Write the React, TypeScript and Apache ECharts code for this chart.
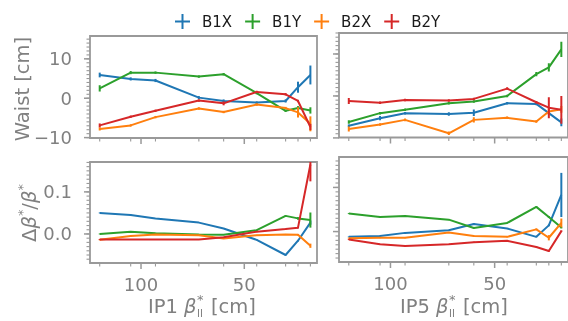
import React, { useEffect, useRef } from 'react';
import * as echarts from 'echarts';

// beta* steps [cm]
const beta = [120, 105, 93, 72, 60, 44, 30, 24, 18];
const beams = ['B1X', 'B1Y', 'B2X', 'B2Y'];
const beamColors = ['#1f77b4', '#2ca02c', '#ff7f0e', '#d62728'];

// IP1 waist [cm]
const ip1WaistB1X = [5.9, 4.9, 4.5, 0.15, -0.7, -1.1, -0.7, 2.8, 5.9];
const ip1WaistB1XErr = [0.6, 0.4, 0.4, 0.4, 0.4, 0.3, 0.4, 1.4, 2.4];
const ip1WaistB1Y = [2.5, 6.5, 6.5, 5.5, 6.1, 1.3, -3.2, -2.5, -3.1];
const ip1WaistB1YErr = [0.8, 0.4, 0.3, 0.3, 0.3, 0.3, 0.3, 0.5, 0.8];
const ip1WaistB2X = [-7.8, -6.9, -4.8, -2.6, -3.5, -1.6, -2.5, -3.6, -6.5];
const ip1WaistB2XErr = [0.4, 0.3, 0.3, 0.3, 0.3, 0.3, 0.3, 1.3, 1.9];
const ip1WaistB2Y = [-6.9, -4.7, -3.2, -0.6, -1.3, 1.6, 1.0, -0.7, -7.3];
const ip1WaistB2YErr = [0.5, 0.3, 0.3, 0.3, 0.5, 0.3, 0.3, 0.3, 0.8];

// IP5 waist [cm]
const ip5WaistB1X = [-7.1, -5.3, -4.1, -4.3, -4.0, -1.75, -1.9, -4.1, -6.3];
const ip5WaistB1XErr = [0.3, 0.5, 0.3, 0.4, 0.8, 0.3, 0.3, 0.3, 0.9];
const ip5WaistB1Y = [-6.2, -4.1, -3.3, -1.75, -1.3, 0.0, 5.2, 6.8, 11.1];
const ip5WaistB1YErr = [0.4, 0.3, 0.3, 0.3, 0.3, 0.3, 0.5, 1.0, 1.8];
const ip5WaistB2X = [-7.9, -6.8, -5.7, -8.9, -5.7, -5.2, -6.1, -3.7, -3.2];
const ip5WaistB2XErr = [0.6, 0.3, 0.3, 0.4, 0.6, 0.3, 0.3, 0.8, 0.8];
const ip5WaistB2Y = [-1.2, -1.6, -0.95, -1.1, -0.7, 1.75, -1.5, -2.8, -3.3];
const ip5WaistB2YErr = [0.7, 0.3, 0.3, 0.3, 0.3, 0.3, 0.3, 2.5, 3.3];

// IP1 delta beta / beta
const ip1DbB1X = [0.05, 0.045, 0.037, 0.027, 0.013, -0.014, -0.05, -0.016, 0.027];
const ip1DbB1XErr = [0.001, 0.001, 0.001, 0.001, 0.001, 0.001, 0.001, 0.002, 0.005];
const ip1DbB1Y = [0.0, 0.0055, 0.0016, -0.001, -0.0016, 0.009, 0.043, 0.037, 0.033];
const ip1DbB1YErr = [0.001, 0.001, 0.001, 0.001, 0.001, 0.001, 0.001, 0.003, 0.018];
const ip1DbB2X = [-0.014, -0.005, -0.001, -0.003, -0.011, -0.003, -0.001, -0.002, -0.028];
const ip1DbB2XErr = [0.001, 0.001, 0.001, 0.001, 0.001, 0.001, 0.001, 0.002, 0.005];
const ip1DbB2Y = [-0.013, -0.013, -0.013, -0.013, -0.008, 0.0055, 0.012, 0.015, 0.165];
const ip1DbB2YErr = [0.001, 0.001, 0.001, 0.001, 0.001, 0.001, 0.001, 0.002, 0.04];

// IP5 delta beta / beta
const ip5DbB1X = [-0.012, -0.01, -0.003, 0.003, 0.017, 0.007, -0.012, 0.014, 0.083];
const ip5DbB1XErr = [0.001, 0.001, 0.001, 0.001, 0.002, 0.001, 0.001, 0.002, 0.05];
const ip5DbB1Y = [0.041, 0.033, 0.035, 0.027, 0.008, 0.0195, 0.056, 0.033, 0.009];
const ip5DbB1YErr = [0.001, 0.001, 0.001, 0.001, 0.001, 0.001, 0.001, 0.002, 0.002];
const ip5DbB2X = [-0.015, -0.014, -0.014, -0.002, -0.01, -0.012, 0.005, -0.014, 0.0195];
const ip5DbB2XErr = [0.001, 0.001, 0.001, 0.001, 0.001, 0.001, 0.002, 0.006, 0.01];
const ip5DbB2Y = [-0.018, -0.029, -0.033, -0.029, -0.024, -0.021, -0.035, -0.044, 0.001];
const ip5DbB2YErr = [0.001, 0.001, 0.001, 0.001, 0.001, 0.001, 0.001, 0.002, 0.002];

const xMajorTicks = [100, 50];
const waistTicks = [-10, 0, 10];
const dbTicks = [0, 0.1];

const X_MIN = 14.8;
const X_MAX = 124.7;

const GRAY = '#808080';
const SPINE = '#999999';
const FONT = 'DejaVu Sans';

function rangeTicks(lo: number, hi: number, step: number): number[] {
  const out: number[] = [];
  const n0 = Math.ceil(lo / step - 1e-9);
  const n1 = Math.floor(hi / step + 1e-9);
  for (let n = n0; n <= n1; n++) out.push(Math.round(n * step * 1e6) / 1e6);
  return out;
}

const fmtMinus = (v: number, d: number) => (v < 0 ? '\u2212' : '') + Math.abs(v).toFixed(d);

export default function App() {
  const ref = useRef<HTMLDivElement>(null);
  useEffect(() => {
    if (!ref.current) return;
    const chart = echarts.init(ref.current, undefined, { renderer: 'svg' });

    const panels = [
      {
        grid: { left: 90, top: 36, width: 227, height: 102 },
        yMin: -10.1, yMax: 15.8, major: waistTicks, minorStep: 1, dec: 0, showY: true, showX: false,
        vals: [ip1WaistB1X, ip1WaistB1Y, ip1WaistB2X, ip1WaistB2Y],
        errs: [ip1WaistB1XErr, ip1WaistB1YErr, ip1WaistB2XErr, ip1WaistB2YErr],
      },
      {
        grid: { left: 339, top: 33, width: 234, height: 104.5 },
        yMin: -9.9, yMax: 15.0, major: waistTicks, minorStep: 1, dec: 0, showY: false, showX: false,
        vals: [ip5WaistB1X, ip5WaistB1Y, ip5WaistB2X, ip5WaistB2Y],
        errs: [ip5WaistB1XErr, ip5WaistB1YErr, ip5WaistB2XErr, ip5WaistB2YErr],
      },
      {
        grid: { left: 90, top: 162, width: 227, height: 101 },
        yMin: -0.069, yMax: 0.171, major: dbTicks, minorStep: 0.01, dec: 1, showY: true, showX: true,
        vals: [ip1DbB1X, ip1DbB1Y, ip1DbB2X, ip1DbB2Y],
        errs: [ip1DbB1XErr, ip1DbB1YErr, ip1DbB2XErr, ip1DbB2YErr],
      },
      {
        grid: { left: 339, top: 157, width: 234, height: 105 },
        yMin: -0.069, yMax: 0.169, major: dbTicks, minorStep: 0.01, dec: 1, showY: false, showX: true,
        vals: [ip5DbB1X, ip5DbB1Y, ip5DbB2X, ip5DbB2Y],
        errs: [ip5DbB1XErr, ip5DbB1YErr, ip5DbB2XErr, ip5DbB2YErr],
      },
    ];

    const grids: any[] = [];
    const xAxes: any[] = [];
    const yAxes: any[] = [];
    const series: any[] = [];

    panels.forEach((p, g) => {
      grids.push({ ...p.grid, show: true, borderColor: SPINE, borderWidth: 1.8, containLabel: false });
      xAxes.push({
        type: 'value', gridIndex: g, min: X_MIN, max: X_MAX, inverse: true, position: 'bottom',
        axisLine: { show: false, onZero: false }, splitLine: { show: false },
        axisTick: { show: false },
        axisLabel: {
          show: p.showX, customValues: xMajorTicks, margin: 12, fontSize: 18, color: GRAY, fontFamily: FONT,
        },
      });
      yAxes.push({
        type: 'value', gridIndex: g, min: p.yMin, max: p.yMax, position: 'left',
        axisLine: { show: false, onZero: false }, splitLine: { show: false },
        axisTick: { show: false },
        axisLabel: {
          show: p.showY, customValues: p.major, margin: 18, fontSize: 18, color: GRAY, fontFamily: FONT,
          formatter: (v: number) => fmtMinus(v, p.dec),
        },
      });

      // tick marks (kind: 0 = x major, 1 = x minor, 2 = y major, 3 = y minor)
      const tickData: number[][] = [];
      xMajorTicks.forEach((v) => tickData.push([v, p.yMin, 0]));
      beta.forEach((v) => tickData.push([v, p.yMin, 1]));
      p.major.forEach((v) => tickData.push([X_MAX, v, 2]));
      rangeTicks(p.yMin, p.yMax, p.minorStep).forEach((v) => tickData.push([X_MAX, v, 3]));
      series.push({
        type: 'custom', name: 'ticks' + g, xAxisIndex: g, yAxisIndex: g, clip: false, z: 1,
        data: tickData, encode: { x: 0, y: 1 }, silent: true,
        renderItem: (params: any, api: any) => {
          const c = params.coordSys;
          const kind = api.value(2);
          const pt = api.coord([api.value(0), api.value(1)]);
          const major = kind === 0 || kind === 2;
          const len = major ? 6 : 3.5;
          const lw = major ? 1.5 : 1.1;
          if (kind <= 1) {
            const yb = c.y + c.height;
            return {
              type: 'line', shape: { x1: pt[0], y1: yb, x2: pt[0], y2: yb + len },
              style: { stroke: SPINE, lineWidth: lw },
            };
          }
          return {
            type: 'line', shape: { x1: c.x, y1: pt[1], x2: c.x - len, y2: pt[1] },
            style: { stroke: SPINE, lineWidth: lw },
          };
        },
      });

      beams.forEach((b, k) => {
        const vals = p.vals[k];
        const errs = p.errs[k];
        series.push({
          type: 'line', name: b, xAxisIndex: g, yAxisIndex: g,
          data: beta.map((x, i) => [x, vals[i]]),
          showSymbol: false, symbol: 'none', color: beamColors[k],
          lineStyle: { width: 2, color: beamColors[k] }, z: 2 + k, clip: true,
        });
        series.push({
          type: 'custom', name: b + '_err', xAxisIndex: g, yAxisIndex: g,
          data: beta.map((x, i) => [x, vals[i], errs[i]]),
          encode: { x: 0, y: 1 }, z: 2 + k, clip: true,
          renderItem: (params: any, api: any) => {
            const x = api.value(0);
            const y = api.value(1);
            const e = api.value(2);
            const c = params.coordSys;
            const p1 = api.coord([x, y - e]);
            const p2 = api.coord([x, y + e]);
            const clampY = (v: number) => Math.max(c.y, Math.min(c.y + c.height, v));
            return {
              type: 'line',
              shape: { x1: p1[0], y1: clampY(p1[1]), x2: p2[0], y2: clampY(p2[1]) },
              style: { stroke: beamColors[k], lineWidth: 2 },
            };
          },
        });
      });
    });

    const plusIcon = 'path://M6.5,0H8.5V6.5H15V8.5H8.5V15H6.5V8.5H0V6.5H6.5Z';

    const txt = (x: number, y: number, text: string, extra: any = {}) => ({
      type: 'text', x, y,
      style: { text, fill: GRAY, fontFamily: FONT, fontSize: 19.5, align: 'left', verticalAlign: 'middle', ...extra },
    });

    const xLabel = (start: number, ip: string) => [
      txt(start, 306, ip + ' '),
      txt(start + 36, 306, '\u03b2', { fontStyle: 'italic' }),
      txt(start + 49, 299, '*', { fontSize: 13 }),
      txt(start + 49, 313, 'II', { fontSize: 10 }),
      txt(start + 63, 306, '[cm]'),
    ];

    const option: any = {
      animation: false,
      grid: grids,
      xAxis: xAxes,
      yAxis: yAxes,
      series,
      legend: {
        left: 170, top: 9, itemWidth: 15, itemHeight: 15, itemGap: 13, selectedMode: false,
        data: beams.map((b, k) => ({ name: b, icon: plusIcon, itemStyle: { color: beamColors[k] } })),
        textStyle: { fontSize: 15, color: '#1a1a1a', fontFamily: FONT, padding: [0, 0, 0, 7] },
      },
      graphic: [
        {
          type: 'text', x: 22, y: 89, rotation: Math.PI / 2,
          style: { text: 'Waist [cm]', fill: GRAY, fontFamily: FONT, fontSize: 19.5, align: 'center', verticalAlign: 'middle' },
        },
        {
          type: 'text', x: 29, y: 213, rotation: Math.PI / 2,
          style: {
            text: '{n|\u0394}{b|\u03b2}{s|*}{n|/}{b|\u03b2}{s|*}',
            align: 'center', verticalAlign: 'middle',
            rich: {
              n: { fontSize: 19.5, fill: GRAY, fontFamily: FONT, lineHeight: 26 },
              b: { fontSize: 19.5, fill: GRAY, fontFamily: FONT, fontStyle: 'italic', lineHeight: 26 },
              s: { fontSize: 13, fill: GRAY, fontFamily: FONT, verticalAlign: 'top', lineHeight: 14 },
            },
          },
        },
        ...xLabel(148, 'IP1'),
        ...xLabel(400, 'IP5'),
      ],
    };
    chart.setOption(option);
    return () => chart.dispose();
  }, []);
  return <div ref={ref} style={{ position: 'fixed', left: 0, top: 0, width: 568, height: 321 }} />;
}
